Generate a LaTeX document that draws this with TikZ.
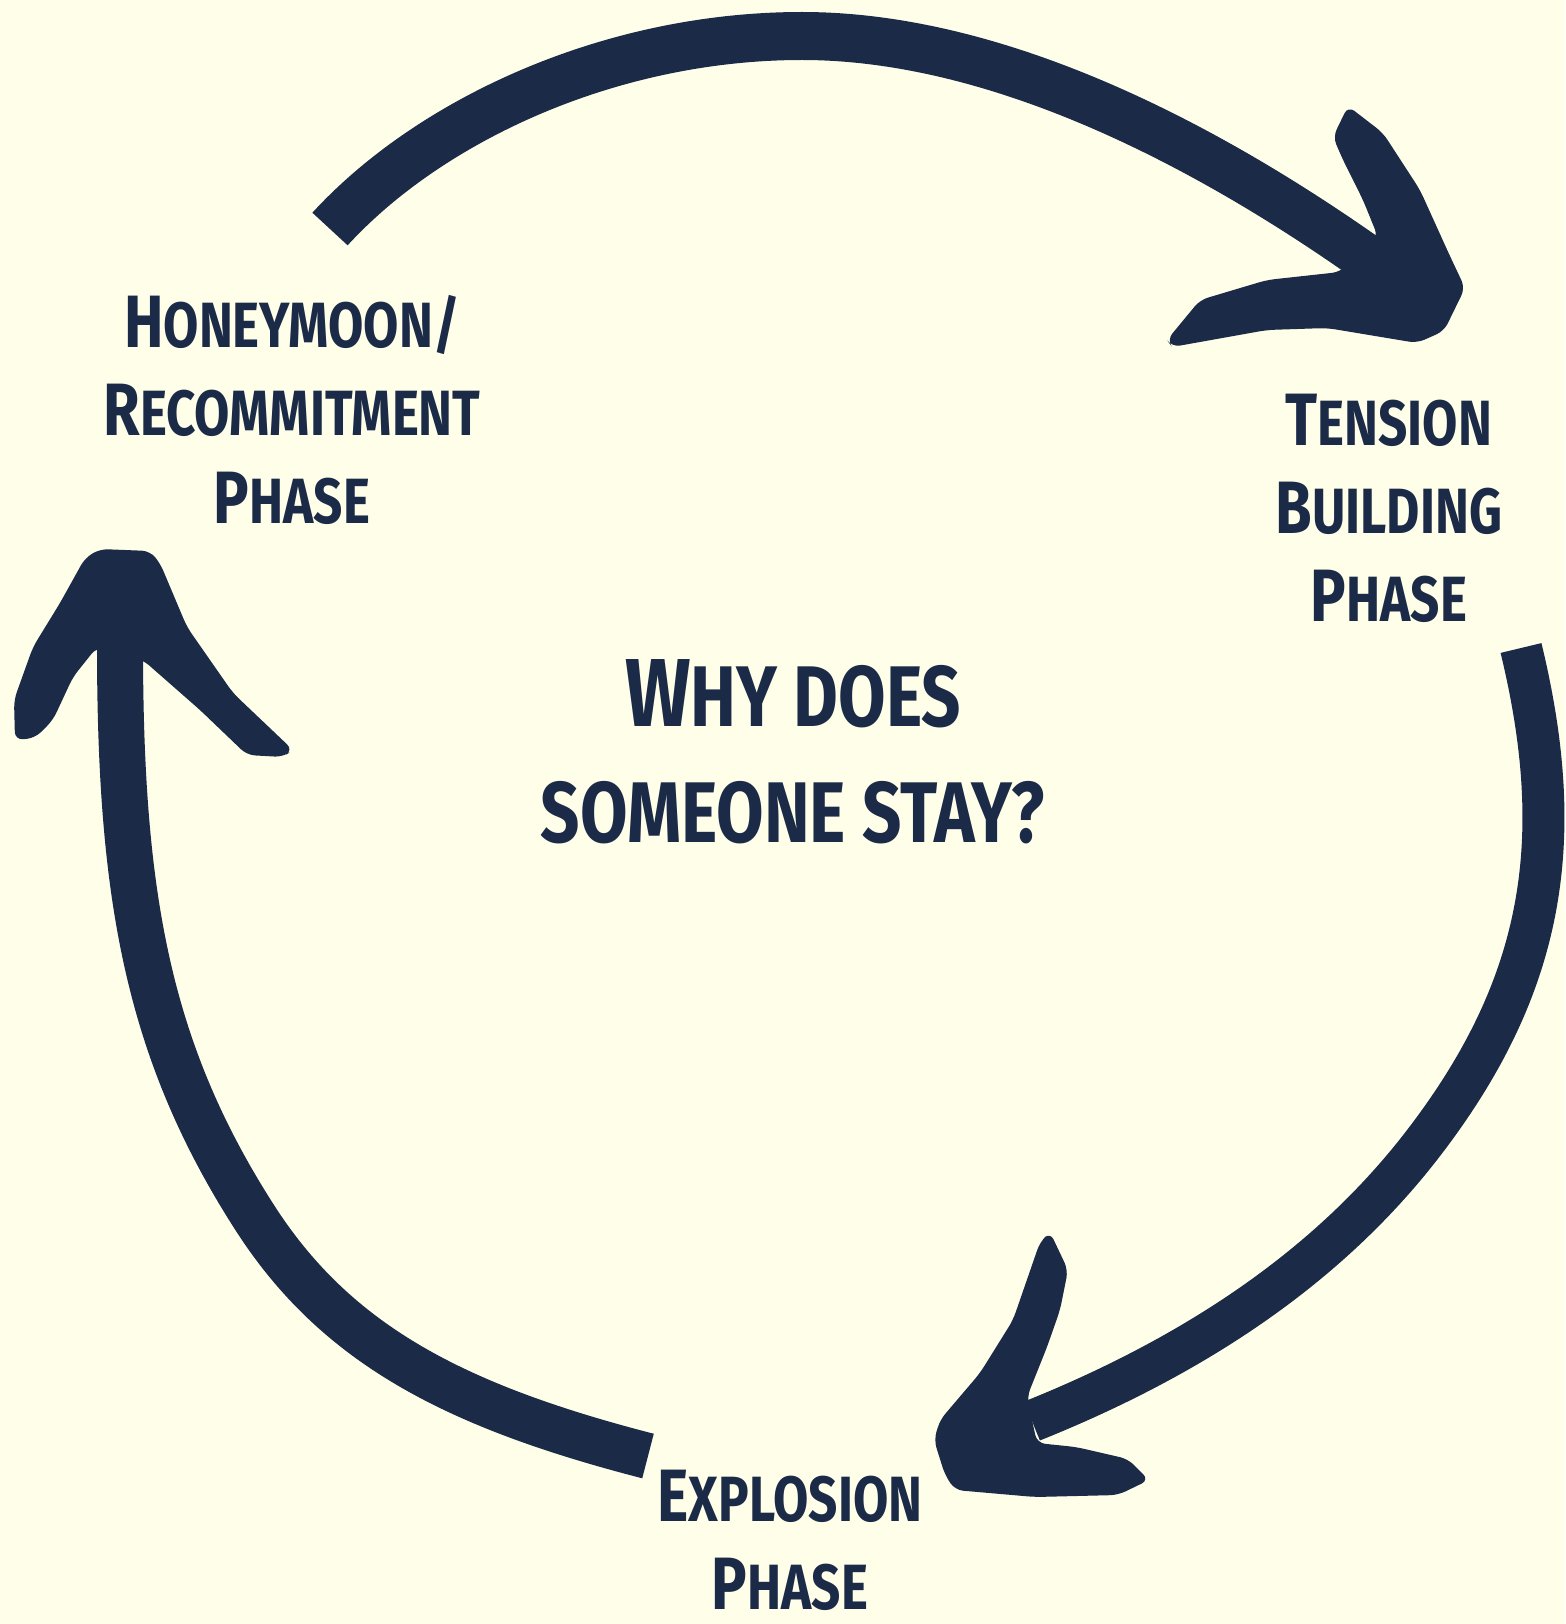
\documentclass[tikz,border=0pt]{standalone}
\usepackage{fontspec}
\newfontfamily\phasefont[FakeStretch=0.8]{Fira Sans Bold}
\definecolor{navy}{RGB}{27,42,71}
\definecolor{cream}{RGB}{254,254,233}
\tikzset{
  shaft/.style={draw=navy,line width=#1,line join=round},
  shaft/.default=4.4mm,
  head/.style={fill=navy,rounded corners=0.8mm},
  phase/.style={text=navy,align=center,inner sep=0pt,font=\phasefont\fontsize{18.2}{25}\selectfont},
  question/.style={phase,font=\phasefont\fontsize{24.5}{33}\selectfont}
}
\newcommand{\firstcap}[1]{{\fontsize{21.1}{25}\selectfont #1}}
\newcommand{\firstbig}[1]{{\fontsize{27.5}{33}\selectfont #1}}

\begin{document}
\begin{tikzpicture}[x=0.1mm,y=-0.1mm]
		% background
		\fill[cream] (0,0) rectangle (1565,1624);
		\useasboundingbox (0,0) rectangle (1565,1624);
		% phase labels
		\node[phase] (honeymoon) at (292,410) {\firstcap{H}ONEYMOON/\\\firstcap{R}ECOMMITMENT\\\firstcap{P}HASE};
		\node[phase] (tension) at (1389,508) {\firstcap{T}ENSION\\\firstcap{B}UILDING\\\firstcap{P}HASE};
		\node[phase] (explosion) at (790,1540) {\firstcap{E}XPLOSION\\\firstcap{P}HASE};
		\node[question] (why) at (793,752) {\firstbig{W}HY DOES\\SOMEONE STAY?};
		% arrow ends and bends
		\coordinate (honey-out) at (330,229);
		\coordinate (top-bend) at (802,36);
		\coordinate (tension-in) at (1372,262);
		\coordinate (tension-out) at (1521,648);
		\coordinate (right-bend) at (1422,1145);
		\coordinate (explosion-in) at (1032,1421);
		\coordinate (explosion-out) at (648,1456);
		\coordinate (left-bend) at (255,1218);
		\coordinate (honey-in) at (120,645);
		% honeymoon -> tension
		\draw[shaft=4.8mm] (honey-out) .. controls (430,120) and (610,36) .. (top-bend)
			.. controls (994,36) and (1200,140) .. (tension-in);
		\fill[head] (1340,272) -- (1267,280) -- (1200,300) -- (1167,340) -- (1172,347) -- (1267,330) -- (1327,328)
			-- (1417,343) -- (1444,331) -- (1465,288) -- (1449,254) -- (1420,190) -- (1383,133) -- (1348,106)
			-- (1333,137) -- (1343,160) -- (1363,200) -- (1378,237) -- cycle;
		% tension -> explosion
		\draw[shaft=4.2mm] (tension-out) .. controls (1568,842) and (1544,987) .. (right-bend)
			.. controls (1330,1264) and (1199,1354) .. (explosion-in);
		\fill[head] (1027,1397) -- (1047,1347) -- (1060,1310) -- (1068,1270) -- (1050,1232) -- (1040,1242)
			-- (1013,1320) -- (980,1373) -- (940,1420) -- (934,1440) -- (945,1475) -- (955,1490) -- (1035,1497)
			-- (1118,1495) -- (1149,1480) -- (1128,1459) -- (1076,1447) -- (1037,1443) -- cycle;
		% explosion -> honeymoon
		\draw[shaft=4.6mm] (explosion-out) .. controls (454,1406) and (336,1344) .. (left-bend)
			.. controls (147,1050) and (120,895) .. (honey-in);
		\fill[head] (97,647) -- (73,677) -- (53,720) -- (35,738) -- (15,740) -- (14,700) -- (33,647) -- (60,603)
			-- (85,558) -- (100,549) -- (150,551) -- (160,563) -- (187,627) -- (233,693) -- (293,750) -- (283,757)
			-- (247,755) -- (200,710) -- (143,660) -- cycle;
	\end{tikzpicture}
\end{document}
